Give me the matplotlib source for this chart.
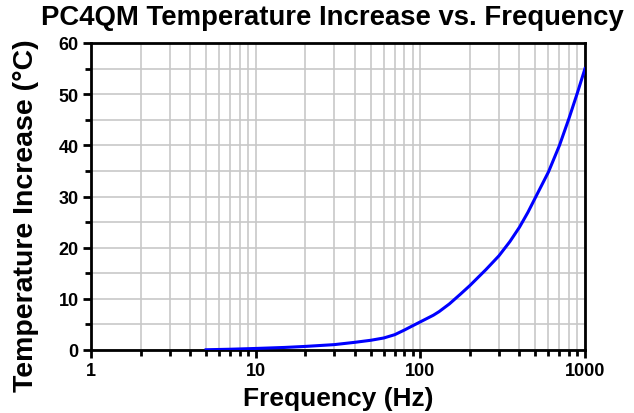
import matplotlib
matplotlib.use("Agg")
import matplotlib.pyplot as plt
from matplotlib.ticker import FixedLocator, NullFormatter

freq_hz = [5, 7, 10, 15, 20, 30, 40, 50, 60, 70, 80, 90, 100, 120, 130, 150, 175, 200, 250, 300, 350, 400, 450, 500, 600, 700, 800, 900, 1000]
temp_rise_c = [0.05, 0.15, 0.3, 0.5, 0.7, 1.05, 1.5, 1.9, 2.35, 3.0, 3.9, 4.75, 5.5, 6.8, 7.5, 9.0, 10.9, 12.6, 15.7, 18.4, 21.2, 24.0, 26.9, 29.8, 34.8, 40.0, 45.3, 50.3, 55.0]
x_major = [1, 10, 100, 1000]
x_labels = ["1", "10", "100", "1000"]
y_major = [0, 10, 20, 30, 40, 50, 60]

plt.rcParams['font.family'] = ['Liberation Sans', 'DejaVu Sans']

fig = plt.figure(figsize=(6.34, 4.14), dpi=100)
ax = fig.add_axes([91/634, 1 - 351/414, 494/634, 307/414])

ax.plot(freq_hz, temp_rise_c, color='#0000ff', lw=2.2, zorder=3, solid_joinstyle='round')
ax.set_xscale('log')
ax.set_xlim(1, 1000)
ax.set_ylim(0, 60)

ax.xaxis.set_major_locator(FixedLocator(x_major))
ax.set_xticklabels(x_labels)
minor_x = [m * d for d in [1, 10, 100] for m in range(2, 10)]
ax.xaxis.set_minor_locator(FixedLocator(minor_x))
ax.xaxis.set_minor_formatter(NullFormatter())
ax.set_yticks(y_major)
ax.yaxis.set_minor_locator(FixedLocator([5, 15, 25, 35, 45, 55]))

ax.grid(True, which='both', color='#c8c8c8', lw=1.2, zorder=0)
ax.set_axisbelow(True)

for s in ax.spines.values():
    s.set_linewidth(2)
    s.set_color('black')

ax.tick_params(which='major', direction='out', length=6, width=2, labelsize=13, pad=3)
ax.tick_params(which='minor', direction='out', length=4, width=2)
for lbl in ax.get_xticklabels() + ax.get_yticklabels():
    lbl.set_fontweight('bold')

ax.set_xlabel('Frequency (Hz)', fontsize=19, fontweight='bold', labelpad=5)
ax.set_ylabel('Temperature Increase (°C)', fontsize=20.5, fontweight='bold', va='center')
ax.yaxis.set_label_coords(-0.132, 0.44)

fig.text(332/634, 1 - 18/414, 'PC4QM Temperature Increase vs. Frequency', ha='center', va='center',
         fontsize=19.8, fontweight='bold')

fig.savefig('out.png', dpi=100)
